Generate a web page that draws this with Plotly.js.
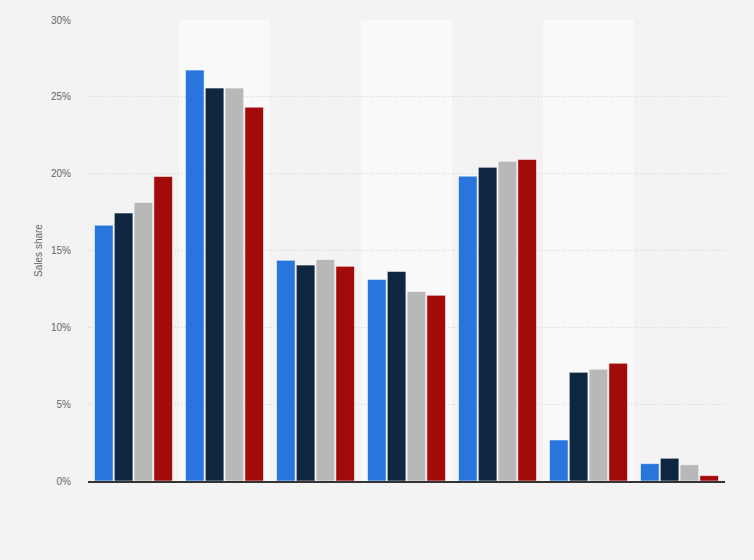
<!DOCTYPE html>
<html>
<head>
<meta charset="utf-8">
<script src="https://cdn.plot.ly/plotly-3.0.1.min.js"></script>
<style>html,body{margin:0;padding:0;background:#f3f3f3;}#chart{width:754px;height:560px;}</style>
</head>
<body>
<div id="chart"></div>
<script>
const categories = ["A", "B", "C", "D", "E", "F", "G"];
const seriesNames = ["Series 1", "Series 2", "Series 3", "Series 4"];
const series1 = [16.65, 26.74, 14.36, 13.12, 19.84, 2.67, 1.13];
const series2 = [17.44, 25.57, 14.05, 13.64, 20.41, 7.07, 1.48];
const series3 = [18.13, 25.57, 14.42, 12.34, 20.80, 7.27, 1.06];
const series4 = [19.82, 24.33, 13.97, 12.08, 20.93, 7.66, 0.35];
const colors = ["#2876dd", "#0f2640", "#b8b8b8", "#a30a0a"];
const yTicks = [0, 5, 10, 15, 20, 25, 30];

const allSeries = [series1, series2, series3, series4];
const traces = allSeries.map((vals, i) => ({
  type: "bar",
  name: seriesNames[i],
  x: categories,
  y: vals,
  marker: {color: colors[i], line: {color: "rgba(255,255,255,0.55)", width: 1}},
  hoverinfo: "y"
}));

const shapes = [];
categories.forEach((c, i) => {
  if (i % 2 === 1) {
    shapes.push({type: "rect", xref: "x", yref: "paper", x0: i - 0.5, x1: i + 0.5, y0: 0, y1: 1,
      fillcolor: "#f9f9f9", line: {width: 0}, layer: "below"});
  }
});

const layout = {
  width: 754, height: 560,
  paper_bgcolor: "#f3f3f3",
  plot_bgcolor: "#f3f3f3",
  margin: {l: 88, r: 29, t: 20, b: 79},
  barmode: "group",
  bargap: 0.13,
  bargroupgap: 0.06,
  showlegend: false,
  shapes: shapes,
  xaxis: {
    type: "category",
    showticklabels: false,
    showgrid: false,
    zeroline: false,
    showline: true,
    linecolor: "#333333",
    linewidth: 1.5,
    ticks: "",
    range: [-0.5, categories.length - 0.5]
  },
  yaxis: {
    range: [0, 30],
    tickvals: yTicks,
    ticktext: yTicks.map(v => v + "%"),
    tickfont: {family: "Arial, Liberation Sans, sans-serif", size: 10, color: "#666666"},
    showgrid: true,
    gridcolor: "#d4d4d4",
    griddash: "1px,2px",
    gridwidth: 1,
    zeroline: false,
    showline: false,
    ticks: "",
    ticklabelstandoff: 16,
    title: {text: "Sales share", font: {family: "Arial, Liberation Sans, sans-serif", size: 10, color: "#666666"}, standoff: 6}
  },
  font: {family: "Arial, Liberation Sans, sans-serif"}
};

Plotly.newPlot("chart", traces, layout, {displayModeBar: false, staticPlot: true});
</script>
</body>
</html>
